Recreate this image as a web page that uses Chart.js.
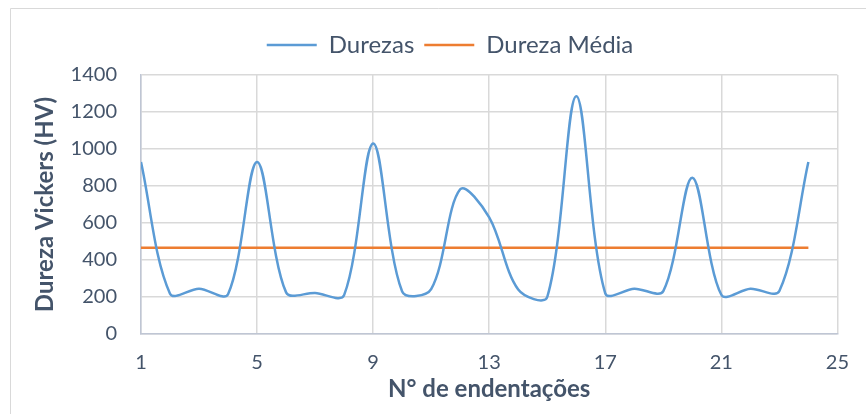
<!DOCTYPE html>
<html>
<head>
<meta charset="utf-8">
<script src="https://cdn.jsdelivr.net/npm/chart.js@4"></script>
<style>
	html, body { margin: 0; padding: 0; background: #ffffff; }
</style>
</head>
<body>
<canvas id="chart" width="866" height="414"></canvas>
<script>
// dados
const endentacoes = [1, 2, 3, 4, 5, 6, 7, 8, 9, 10, 11, 12, 13, 14, 15, 16, 17, 18, 19, 20, 21, 22, 23, 24];
const durezas = [930, 218, 245, 215, 930, 225, 222, 210, 1030, 230, 242, 782, 630, 240, 200, 1285, 220, 245, 232, 845, 212, 245, 232, 930];
const durezaMedia = [466, 466, 466, 466, 466, 466, 466, 466, 466, 466, 466, 466, 466, 466, 466, 466, 466, 466, 466, 466, 466, 466, 466, 466];
const xTicks = [1, 5, 9, 13, 17, 21, 25];
const yTicks = [0, 200, 400, 600, 800, 1000, 1200, 1400];

const textColor = '#44546A';
const gridColor = '#D9D9D9';
const axisColor = '#BFC6D4';

// moldura da área do gráfico (estilo Excel)
const outerFrame = {
	id: 'outerFrame',
	beforeDraw(chart) {
		const { ctx } = chart;
		ctx.save();
		ctx.strokeStyle = gridColor;
		ctx.lineWidth = 1;
		ctx.beginPath();
		ctx.moveTo(10.5, 414);
		ctx.lineTo(10.5, 8.5);
		ctx.lineTo(866, 8.5);
		ctx.stroke();
		ctx.restore();
	},
};

// espaço extra entre a legenda e o gráfico + deslocamento horizontal
const legendGap = {
	id: 'legendGap',
	beforeInit(chart) {
		const fit = chart.legend.fit;
		chart.legend.fit = function () {
			fit.bind(chart.legend)();
			this.height += 8;
		};
	},
	afterLayout(chart) {
		chart.legend.left += 29;
		chart.legend.right += 29;
	},
};

const toPoints = (ys) => ys.map((y, i) => ({ x: endentacoes[i], y: y }));

new Chart(document.getElementById('chart'), {
	type: 'line',
	data: {
		datasets: [
			{
				label: 'Durezas',
				data: toPoints(durezas),
				borderColor: '#5B9BD5',
				backgroundColor: '#5B9BD5',
				borderWidth: 2.5,
				pointRadius: 0,
				tension: 0.33,
			},
			{
				label: 'Dureza Média',
				data: toPoints(durezaMedia),
				borderColor: '#ED7D31',
				backgroundColor: '#ED7D31',
				borderWidth: 2.5,
				pointRadius: 0,
				tension: 0,
			},
		],
	},
	options: {
		responsive: false,
		animation: false,
		layout: { padding: { left: 0, right: 24, top: 23, bottom: 0 } },
		plugins: {
			legend: {
				position: 'top',
				labels: {
					boxWidth: 50,
					boxHeight: 0,
					padding: 10,
					color: textColor,
					font: { family: 'Lato', size: 24 },
				},
			},
			tooltip: { enabled: false },
		},
		scales: {
			x: {
				type: 'linear',
				min: 1,
				max: 25,
				afterBuildTicks: (scale) => {
					scale.ticks = xTicks.map((v) => ({ value: v }));
				},
				afterFit: (scale) => {
					scale.height = 80;
				},
				border: { color: axisColor, width: 1.5 },
				grid: { color: gridColor, lineWidth: 1.5, drawTicks: false },
				ticks: {
					padding: 17,
					color: textColor,
					font: { family: 'Lato', size: 20 },
					maxRotation: 0,
				},
				title: {
					display: true,
					text: 'N° de endentações',
					color: textColor,
					font: { family: 'Lato', size: 24, weight: 'bold' },
					padding: { top: 0, bottom: 10 },
				},
			},
			y: {
				min: 0,
				max: 1400,
				afterBuildTicks: (scale) => {
					scale.ticks = yTicks.map((v) => ({ value: v }));
				},
				afterFit: (scale) => {
					scale.width = 141;
				},
				border: { color: axisColor, width: 1.5 },
				grid: { color: gridColor, lineWidth: 1.5, drawTicks: false },
				ticks: {
					padding: 24,
					color: textColor,
					font: { family: 'Lato', size: 20 },
					callback: (value) => String(value),
				},
				title: {
					display: true,
					text: 'Dureza Vickers (HV)',
					color: textColor,
					font: { family: 'Lato', size: 24, weight: 'bold' },
					padding: { top: 31, bottom: 0 },
				},
			},
		},
	},
	plugins: [outerFrame, legendGap],
});
</script>
</body>
</html>
